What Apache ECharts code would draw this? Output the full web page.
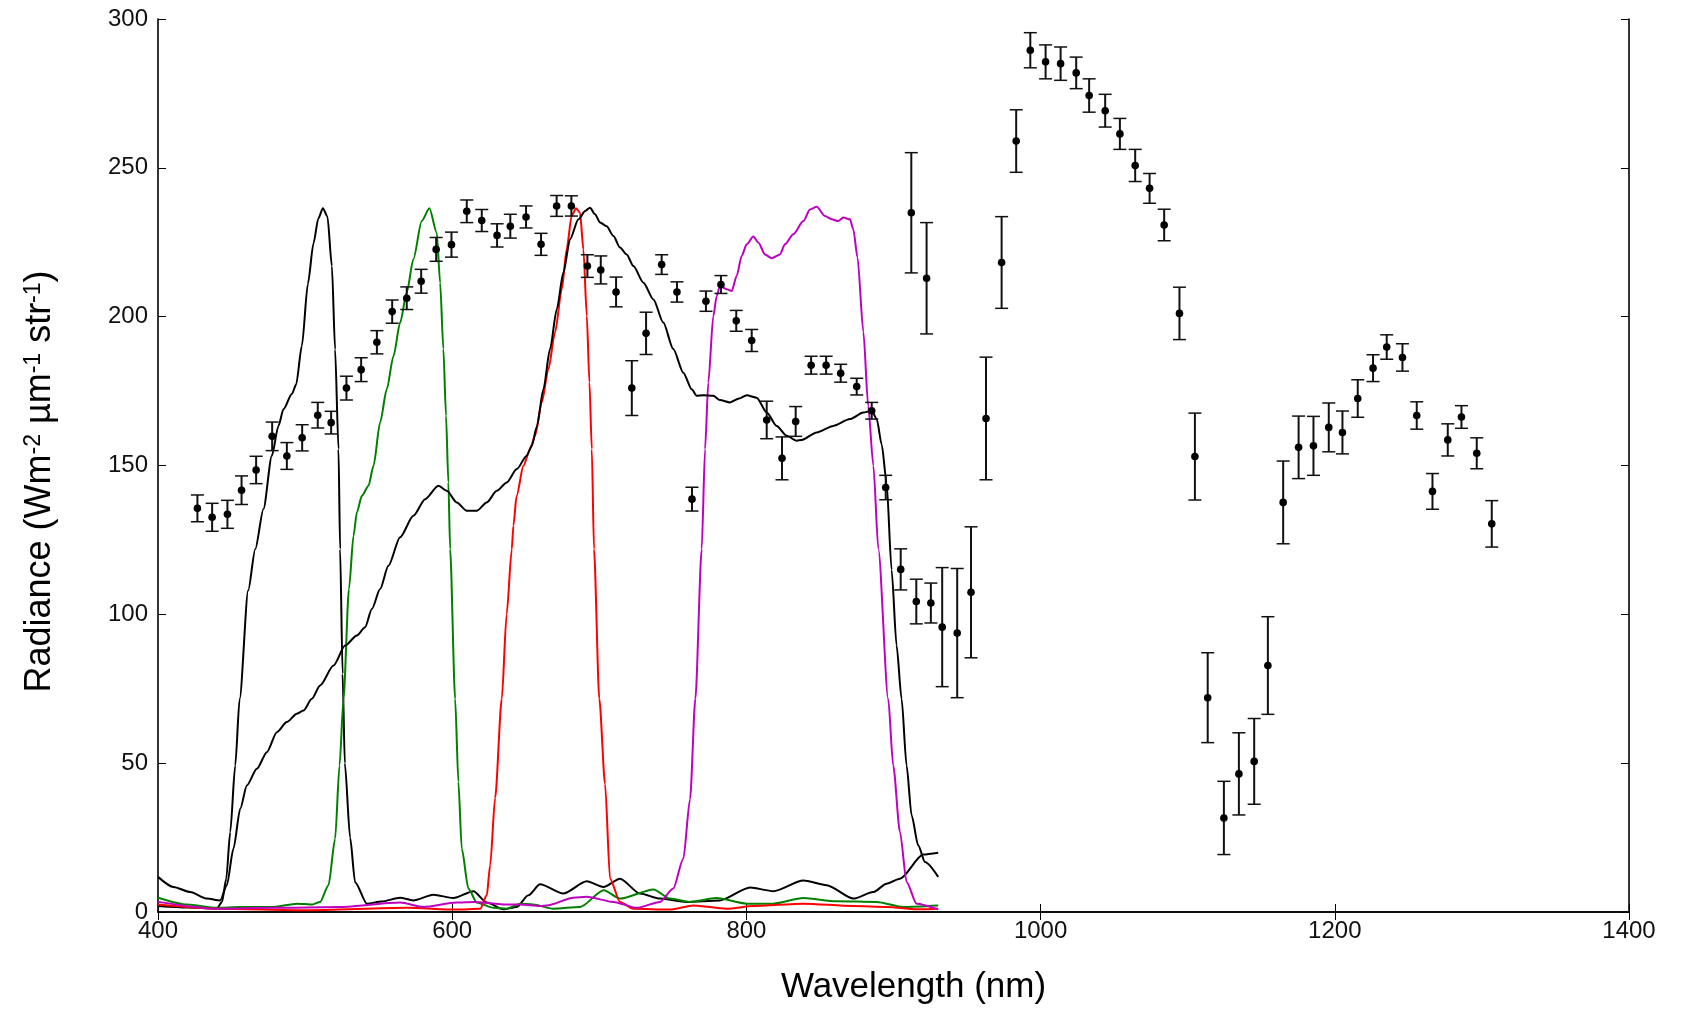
<!DOCTYPE html>
<html>
<head>
<meta charset="utf-8">
<title>Radiance spectrum</title>
<script src="https://cdn.jsdelivr.net/npm/echarts@6/dist/echarts.min.js"></script>
<style>
  html, body { margin: 0; padding: 0; background: #fff; }
  #chart { width: 1683px; height: 1010px; }
</style>
</head>
<body>
<div id="chart"></div>
<script>
  // measured radiance points with symmetric error bars
  const wavelengths = [426.8, 436.8, 447.2, 456.8, 466.7, 477.6, 487.6, 498.0, 508.6, 517.7,
    528.1, 538.1, 548.8, 559.2, 569.1, 578.9, 589.1, 599.5, 609.9, 620.1,
    630.5, 639.5, 650.2, 660.4, 671.0, 681.0, 691.9, 701.0, 711.4, 722.1,
    731.8, 742.4, 752.8, 763.0, 772.5, 782.7, 793.1, 803.6, 813.8, 824.2,
    833.5, 844.0, 854.2, 864.1, 875.0, 885.2, 894.7, 904.9, 912.1, 915.5,
    922.5, 925.4, 933.1, 943.3, 952.7, 962.9, 973.5, 983.4, 993.0, 1003.4,
    1013.6, 1024.2, 1033.0, 1043.9, 1053.9, 1064.3, 1074.1, 1084.0, 1094.4, 1104.9,
    1113.6, 1124.6, 1134.8, 1145.2, 1154.5, 1164.9, 1175.4, 1185.5, 1195.9, 1205.2,
    1215.6, 1226.0, 1235.3, 1246.0, 1255.7, 1266.4, 1276.8, 1286.1, 1296.5, 1306.7]
  const radiance = [135.6, 132.6, 133.6, 141.7, 148.5, 159.8, 153.2, 159.3, 166.9, 164.4,
    176.0, 182.2, 191.4, 201.7, 206.2, 211.9, 222.6, 224.2, 235.4, 232.3,
    227.3, 230.4, 233.5, 224.3, 237.2, 237.2, 217.0, 215.7, 208.3, 176.0,
    194.4, 217.5, 208.3, 138.7, 205.2, 210.8, 198.6, 192.0, 165.3, 152.4,
    164.8, 183.7, 183.7, 181.0, 176.5, 168.4, 142.6, 115.1, 234.9, 104.3,
    212.9, 103.8, 95.7, 93.7, 107.4, 165.8, 218.2, 259.0, 289.5, 285.6,
    285.0, 281.9, 274.3, 269.2, 261.4, 250.8, 243.1, 230.8, 201.1, 153.0,
    72.0, 31.6, 46.4, 50.6, 82.8, 137.6, 156.1, 156.6, 162.8, 161.1,
    172.5, 182.7, 189.8, 186.3, 166.8, 141.3, 158.6, 166.3, 154.1, 130.4]
  const errors = [4.5, 4.7, 4.7, 4.8, 4.6, 4.8, 4.5, 4.4, 4.3, 3.8,
    4.0, 4.0, 3.9, 3.9, 3.8, 4.0, 4.0, 4.2, 3.8, 3.7,
    3.9, 4.0, 3.7, 3.7, 3.5, 3.4, 3.8, 4.7, 5.0, 9.2,
    7.1, 3.3, 3.4, 4.0, 3.4, 3.0, 3.5, 3.7, 6.3, 7.2,
    5.0, 3.0, 3.0, 3.0, 2.8, 2.8, 4.1, 6.9, 20.2, 7.5,
    18.7, 6.7, 20.0, 21.7, 22.0, 20.6, 15.4, 10.5, 5.9, 5.7,
    5.6, 5.3, 5.6, 5.5, 5.2, 5.4, 5.0, 5.3, 8.8, 14.6,
    15.1, 12.3, 13.8, 14.4, 16.4, 13.9, 10.5, 9.9, 8.2, 7.2,
    6.3, 4.5, 4.1, 4.6, 4.6, 6.0, 5.4, 3.8, 5.2, 7.8]

  // filter curves, [nm, value]
  const filter510 = [[400, 2], [420, 1.5], [440, 1.2], [443.5, 3.4], [446.4, 11.2], [449.1, 26.9],
    [452.5, 49.2], [455.5, 71.6], [461.3, 108], [466.1, 121.9], [471.7, 135.4], [477.4, 153.3],
    [481.9, 163.3], [485.3, 168.9], [491, 174], [493.9, 177.2], [497.8, 190.2], [501.9, 211.1],
    [505.7, 224.6], [509, 233], [512.1, 236.4], [515.2, 233.6], [518.2, 217], [520.4, 189],
    [522.7, 155.5], [523.8, 121.9], [525.5, 80], [527, 50], [530.6, 25], [534, 10], [542, 2.8],
    [552, 3.5], [564.6, 4.8], [573.5, 3.9], [587.2, 5.8], [600.8, 4.7], [614.4, 7.0], [623.5, 3.2],
    [634.8, 0.9], [643.9, 1.7], [651.8, 5.6], [659.7, 9.3], [675.6, 6.2], [691.5, 10.3],
    [702.8, 8.4], [714.1, 11.2], [727.7, 6.2], [741.3, 4.5], [759.4, 3.4], [782, 3.9],
    [802.5, 8.2], [818.3, 7.0], [838.7, 10.6], [854.6, 9.0], [872.7, 4.5], [886.3, 6.7],
    [895.3, 9.5], [904.4, 11.2], [920.2, 19.3], [930.4, 19.9]]
  const filter585 = [[400, 4.8], [420, 2.5], [440, 1.4], [456, 1.7], [478.5, 1.7], [494.4, 2.8],
    [505, 2.5], [510.2, 3.4], [515.9, 9.0], [520.4, 24.6], [523.4, 49.2], [526.1, 71.6],
    [529.8, 108.4], [532.9, 126.4], [535.2, 134.3], [538.6, 139.8], [543.1, 143.2], [546.5, 149.9],
    [551, 164.5], [555.5, 175.6], [560.1, 186.8], [564.6, 198], [569.1, 208.1], [573.6, 219.3],
    [579.3, 232.1], [584.5, 236.4], [589.5, 228.2], [591.8, 211.4], [594, 189.1], [595.8, 166.7],
    [597.4, 144.3], [598.6, 121.9], [602, 71.6], [604.2, 43.7], [606.5, 21.3], [611, 7.9],
    [616.7, 3.2], [628, 1.4], [637.1, 1.1], [646.2, 2.8], [655, 2.5], [668.7, 1.1], [686.9, 1.7],
    [703, 7.3], [714.1, 4.5], [736.8, 7.6], [748.1, 4.5], [761.7, 3.4], [779.7, 4.7], [800.1, 2.8],
    [818.3, 2.8], [838.7, 4.7], [861.4, 3.6], [888.6, 3.4], [906.7, 1.7], [930.4, 2.2]]
  const filter685 = [[400, 2.5], [440, 1.1], [501, 0.6], [569, 1.4], [603, 0.8], [619, 1.1],
    [623.5, 5.6], [625.8, 15.7], [629.2, 38.4], [633.7, 71.6], [637, 100], [640.5, 121.9],
    [641.6, 129.8], [643.8, 139.8], [648.4, 149.9], [652.9, 155.5], [656.3, 160], [660.9, 171.2],
    [665.4, 182.4], [669.9, 194.7], [674.5, 209.2], [677.8, 222.6], [681.2, 233.8], [684.2, 236.4],
    [686.9, 234.9], [689.2, 222.6], [691.5, 200.2], [693.3, 177.9], [694.9, 155.5], [696.4, 121.9],
    [700, 71.6], [703.9, 43.1], [707.3, 11.2], [714.1, 3.4], [723.2, 1.1], [748.1, 0.8], [764, 2.2],
    [786.6, 1.1], [804.8, 2.0], [838.7, 2.8], [872.7, 2.0], [895.3, 1.7], [917.9, 0.9], [930.4, 1.1]]
  const filter830 = [[400, 3.4], [440, 1.1], [478.5, 1.4], [523.8, 1.7], [564.6, 3.2], [580.4, 1.7],
    [603.1, 3.2], [614.4, 3.4], [637.1, 2.5], [646.2, 2.5], [659.7, 2.0], [664.3, 2.2], [682.4, 4.8],
    [691.5, 5.1], [709.6, 3.4], [725.5, 1.4], [741.3, 3.4], [750.3, 7.9], [757.1, 17.9], [761.7, 38],
    [765.3, 71.6], [769.6, 121.9], [771.9, 155.5], [774.1, 177.9], [777.5, 200.2], [779.8, 206.9],
    [782, 210.3], [786.6, 209.2], [790, 208.6], [793.4, 213.7], [796.8, 220.4], [800.2, 224.3],
    [804.7, 226.9], [808.1, 224.9], [812.7, 220.9], [817.2, 219.6], [822.8, 220.9], [826.2, 224.3],
    [831.9, 227.7], [838.7, 232.1], [843.2, 236], [847.8, 236.9], [853.4, 233.8], [858, 232.7],
    [862.4, 232.1], [865.9, 233.3], [870.4, 232.7], [872.7, 229.3], [875.5, 220], [879.5, 195],
    [882.8, 170], [886.3, 150], [889.7, 121.9], [896.4, 71.6], [899.8, 49.2], [904.4, 26.9],
    [908.9, 10.1], [915.7, 2.8], [930.4, 0.9]]
  const filterPan = [[400, 11.8], [410.5, 8.4], [421.9, 6.7], [433.2, 4.5], [442.3, 3.9], [446.8, 9.0],
    [451.3, 21.3], [455.9, 34.7], [460.4, 42.5], [467.2, 48.1], [474, 53.7], [480.8, 60.4],
    [487.6, 63.8], [494.4, 66.6], [498.9, 67.7], [504.6, 71.6], [510.2, 76.1], [519.3, 82.8],
    [527.2, 89.5], [535.2, 92.9], [540.8, 95.7], [545.4, 101.8], [551, 108.5], [556.6, 116.3],
    [564.6, 125.9], [573.6, 133.1], [581.6, 138.7], [590.6, 143.2], [596.3, 141.5], [603.1, 137.6],
    [609.9, 134.8], [616.7, 134.8], [623.5, 137.6], [630.3, 141.5], [637.1, 144.3], [643.9, 148.8],
    [650.7, 153.3], [654.1, 156.6], [657.5, 163], [662, 175.6], [666.5, 189.1], [671.1, 202.5],
    [675.6, 214.8], [680.1, 226], [685.8, 232.7], [690.4, 235.5], [693.7, 236.6], [697.1, 234.4],
    [700.5, 231.6], [705, 230.4], [709.6, 227.1], [714.1, 223.2], [718.6, 220.9], [723.2, 217],
    [730, 211.4], [736.8, 205.8], [743.5, 198], [750.3, 189.1], [757.1, 181.2], [762.8, 175.6],
    [766.2, 173.4], [770.7, 173.6], [777.5, 173.4], [782, 172], [788.9, 171.2], [795, 172.5],
    [800.2, 173.6], [807, 172.8], [813.8, 167.8], [820.6, 163.3], [827.4, 160], [834.2, 158.3],
    [837.6, 158.6], [847.8, 161.1], [859.1, 163.3], [870.4, 165.6], [879.5, 167.8], [885.2, 168.4],
    [888.6, 165.6], [892, 157], [895.3, 144.3], [898.7, 115], [902.1, 89.5], [905.5, 71.6],
    [908.9, 49.2], [912.3, 32.5], [916.8, 22.4], [921.4, 16.8], [930.4, 11.8]]

  const xTicks = {min: 400, max: 1400, interval: 200}
  const yTicks = {min: 0, max: 300, interval: 50}

  const font = 'Liberation Sans, Arial, Helvetica, sans-serif'
  const frame = {show: true, lineStyle: {color: '#000', width: 1.6}}
  const tick = {show: true, inside: true, length: 8, lineStyle: {color: '#000', width: 1}}
  const plain = v => String(v)

  function lineSeries(data, color) {
    return {
      type: 'line',
      data: data,
      showSymbol: false,
      silent: true,
      smooth: 0.25,
      smoothMonotone: 'x',
      lineStyle: {color: color, width: 2},
      z: 2
    }
  }

  function renderErrorBar(params, api) {
    const x = api.value(0)
    const y = api.value(1)
    const err = api.value(2)
    const top = api.coord([x, y + err])
    const bottom = api.coord([x, y - err])
    const mid = api.coord([x, y])
    const cap = 6.5
    const stroke = '#111'
    return {
      type: 'group',
      children: [
        {type: 'line', shape: {x1: top[0], y1: top[1], x2: bottom[0], y2: bottom[1]}, style: {stroke: stroke, lineWidth: 2}},
        {type: 'line', shape: {x1: top[0] - cap, y1: top[1], x2: top[0] + cap, y2: top[1]}, style: {stroke: stroke, lineWidth: 1.5}},
        {type: 'line', shape: {x1: bottom[0] - cap, y1: bottom[1], x2: bottom[0] + cap, y2: bottom[1]}, style: {stroke: stroke, lineWidth: 1.5}},
        {type: 'circle', shape: {cx: mid[0], cy: mid[1], r: 3.8}, style: {fill: '#000'}}
      ]
    }
  }

  const chart = echarts.init(document.getElementById('chart'))
  chart.setOption({
    animation: false,
    backgroundColor: '#fff',
    textStyle: {fontFamily: font, color: '#000'},
    grid: {left: 158, right: 54, top: 19, bottom: 97},
    xAxis: [
      {
        type: 'value',
        position: 'bottom',
        min: xTicks.min,
        max: xTicks.max,
        interval: xTicks.interval,
        axisLine: frame,
        axisTick: tick,
        splitLine: {show: false},
        axisLabel: {fontSize: 24, color: '#111', margin: 7, fontFamily: font, formatter: plain},
        name: 'Wavelength (nm)',
        nameLocation: 'middle',
        nameGap: 58,
        nameTextStyle: {fontSize: 35, color: '#000', fontFamily: font, padding: [0, 0, 0, 40]}
      },
      {
        type: 'value',
        position: 'top',
        min: xTicks.min,
        max: xTicks.max,
        interval: xTicks.interval,
        axisLine: frame,
        axisTick: tick,
        splitLine: {show: false},
        axisLabel: {show: false}
      }
    ],
    yAxis: [
      {
        type: 'value',
        position: 'left',
        min: yTicks.min,
        max: yTicks.max,
        interval: yTicks.interval,
        axisLine: frame,
        axisTick: tick,
        splitLine: {show: false},
        axisLabel: {fontSize: 24, color: '#111', margin: 10, fontFamily: font, formatter: plain},
        name: 'Radiance (Wm{sup|-2} µm{sup|-1} str{sup|-1})',
        nameLocation: 'middle',
        nameRotate: 90,
        nameGap: 100,
        nameTextStyle: {
          fontSize: 36,
          color: '#000',
          fontFamily: font,
          padding: [0, 32, 0, 0],
          rich: {
            sup: {fontSize: 23, verticalAlign: 'top', lineHeight: 36, padding: [0, 0, 14, 0], fontFamily: font, color: '#000'}
          }
        }
      },
      {
        type: 'value',
        position: 'right',
        min: yTicks.min,
        max: yTicks.max,
        interval: yTicks.interval,
        axisLine: frame,
        axisTick: tick,
        splitLine: {show: false},
        axisLabel: {show: false}
      }
    ],
    series: [
      lineSeries(filter510, '#000'),
      lineSeries(filter585, '#008000'),
      lineSeries(filter685, '#ff0000'),
      lineSeries(filter830, '#bf00bf'),
      lineSeries(filterPan, '#000'),
      {
        type: 'custom',
        renderItem: renderErrorBar,
        data: wavelengths.map((w, i) => [w, radiance[i], errors[i]]),
        encode: {x: 0, y: 1},
        silent: true,
        z: 5
      }
    ]
  })
</script>
</body>
</html>
